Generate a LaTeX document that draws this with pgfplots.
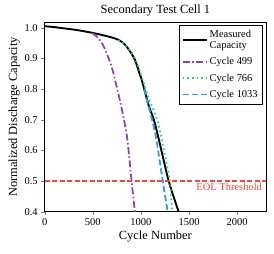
\documentclass[border=0pt]{standalone}
\usepackage{pgfplots}
\pgfplotsset{compat=1.18}
\usepackage{fontspec}
\setmainfont{Liberation Serif}
\definecolor{cpurple}{HTML}{8E44AD}
\definecolor{cgreen}{HTML}{2ECC71}
\definecolor{cblue}{HTML}{3498DB}
\definecolor{cred}{HTML}{E74C3C}
\begin{document}
\begin{tikzpicture}
\begin{axis}[
  name=ax,
  scale only axis,
  width=221bp, height=189bp,
  xmin=0, xmax=2300, ymin=0.4, ymax=1.017,
  xtick={0,500,1000,1500,2000},
  ytick={0.4,0.5,0.6,0.7,0.8,0.9,1.0},
  xticklabel style={/pgf/number format/1000 sep={}},
  yticklabel style={/pgf/number format/fixed,/pgf/number format/fixed zerofill,/pgf/number format/precision=1},
  /pgf/number format/assume math mode=true,
  tick label style={font=\fontsize{10.5}{12}\selectfont},
  tick align=outside, tick pos=left,
  major tick length=3.5bp,
  xlabel={Cycle Number}, ylabel={Normalized Discharge Capacity},
  label style={font=\fontsize{12.5}{14}\selectfont},
  xlabel style={yshift=2bp},
  ylabel style={yshift=-2bp},
  title={Secondary Test Cell 1},
  title style={font=\fontsize{12.5}{14}\selectfont, yshift=-3bp},
  axis line style={line width=0.8pt},
  legend style={at={(1,1)}, anchor=north east, xshift=-3bp, yshift=-2.5bp,
    font=\fontsize{10.5}{11}\selectfont, draw=black, line width=0.6pt,
    cells={anchor=west}, inner xsep=3pt, inner ysep=3pt, row sep=3.5pt},
  legend cell align=left,
  legend image code/.code={\draw[#1, line width=1.8pt] (0bp,0bp) -- (24bp,0bp);},
  clip=true,
]
\addplot[black, line width=1.9pt, smooth] coordinates {
(0,1.005)(100,1.002)(200,0.998)(300,0.994)(400,0.989)(500,0.983)(600,0.976)(700,0.968)(770,0.96)(830,0.946)(880,0.926)(938,0.895)(980,0.856)(1013,0.825)(1040,0.793)(1080,0.747)(1134,0.70)(1179,0.645)(1289,0.5)(1392,0.4)(1420,0.37)};
\addlegendentry{\shortstack[l]{Measured\\[1pt]Capacity}}
\addplot[cpurple, line width=1.8pt, dash pattern=on 7bp off 2.5bp on 1.5bp off 2.5bp, smooth] coordinates {
(495,0.983)(550,0.968)(600,0.947)(650,0.912)(700,0.868)(750,0.805)(780,0.765)(820,0.705)(858,0.638)(903,0.5)(937,0.4)(950,0.36)};
\addlegendentry{Cycle 499}
\addplot[cgreen, line width=1.8pt, dash pattern=on 1.6bp off 3bp, smooth] coordinates {
(766,0.960)(830,0.946)(880,0.927)(940,0.898)(990,0.858)(1030,0.818)(1080,0.77)(1168,0.70)(1240,0.60)(1299,0.5)(1325,0.4)(1335,0.36)};
\addlegendentry{Cycle 766}
\addplot[cblue, line width=1.8pt, dash pattern=on 6bp off 3bp, smooth] coordinates {
(1033,0.80)(1070,0.755)(1116,0.70)(1161,0.634)(1227,0.5)(1278,0.4)(1290,0.37)};
\addlegendentry{Cycle 1033}
\addplot[cred, line width=1.3pt, dash pattern=on 5bp off 2.5bp, forget plot] coordinates {(0,0.5)(2300,0.5)};
\node[anchor=north east, text=cred, font=\fontsize{10.5}{12}\selectfont, inner sep=1pt] at (axis cs:2270,0.496) {EOL Threshold};
\end{axis}
\pgfresetboundingbox
\path ([xshift=-44.7bp,yshift=-41.3bp]ax.south west) rectangle ([xshift=8bp,yshift=22.5bp]ax.north east);
\end{tikzpicture}
\end{document}
